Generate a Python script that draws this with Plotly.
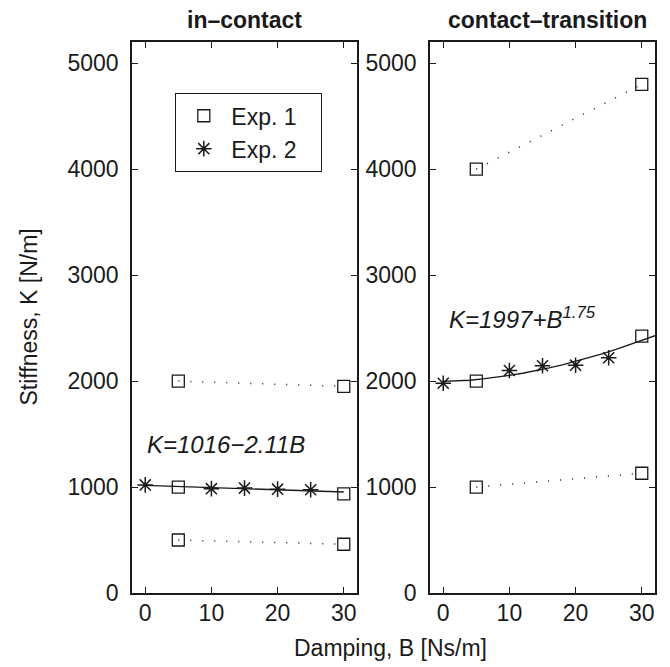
import plotly.graph_objects as go

# ---------------- data ----------------
# in-contact panel
ic_exp1_hi_B = [5, 30]
ic_exp1_hi_K = [2000, 1950]
ic_exp1_mid_B = [5, 30]
ic_exp1_mid_K = [1000, 935]
ic_exp1_lo_B = [5, 30]
ic_exp1_lo_K = [500, 460]
ic_exp2_B = [0, 10, 15, 20, 25]
ic_exp2_K = [1020, 985, 990, 980, 975]
ic_fit_B = [0, 30]
ic_fit_K = [1016, 953]

# contact-transition panel
ct_exp1_hi_B = [5, 30]
ct_exp1_hi_K = [4000, 4800]
ct_exp1_mid_B = [5, 30]
ct_exp1_mid_K = [2000, 2425]
ct_exp1_lo_B = [5, 30]
ct_exp1_lo_K = [1000, 1130]
ct_exp2_B = [0, 10, 15, 20, 25]
ct_exp2_K = [1980, 2100, 2145, 2150, 2220]
ct_fit_B = [0, 2, 4, 6, 8, 10, 12, 14, 16, 18, 20, 22, 24, 26, 28, 30, 32]
ct_fit_K = [1997, 2000, 2008, 2020, 2035, 2053, 2074, 2098, 2125, 2154,
            2186, 2220, 2257, 2296, 2338, 2382, 2428]

x_ticks = [0, 10, 20, 30]
y_ticks = [0, 1000, 2000, 3000, 4000, 5000]
panel_titles = ["in\u2013contact", "contact\u2013transition"]
fit_labels = ["<i>K=1016\u22122.11B</i>", "<i>K=1997+B<sup>1.75</sup></i>"]
legend_names = ["Exp. 1", "Exp. 2"]

# ---------------- style ----------------
INK = "#1a1a1a"
FONT = "Liberation Sans, Arial, Helvetica, sans-serif"
FS = 23
DOT = "1px,11px"
PAD = "\u00a0\u00a0\u00a0"  # right padding inside the legend box
SQ = dict(symbol="square-open", size=12, color=INK, line=dict(width=1.3, color=INK))
ST = dict(symbol="asterisk-open", size=13, color=INK, line=dict(width=1.5, color=INK))

fig = go.Figure()


def add_panel(xa, ya, hi, mid, lo, exp2, fit):
    for (bx, ky) in (hi, lo):
        fig.add_trace(go.Scatter(x=bx, y=ky, mode="lines+markers", xaxis=xa, yaxis=ya,
                                 line=dict(color=INK, width=1.5, dash=DOT),
                                 marker=SQ, showlegend=False, hoverinfo="skip"))
    fig.add_trace(go.Scatter(x=fit[0], y=fit[1], mode="lines", xaxis=xa, yaxis=ya,
                             line=dict(color=INK, width=1.3), showlegend=False,
                             hoverinfo="skip"))
    fig.add_trace(go.Scatter(x=mid[0], y=mid[1], mode="markers", xaxis=xa, yaxis=ya,
                             marker=SQ, showlegend=False))
    fig.add_trace(go.Scatter(x=exp2[0], y=exp2[1], mode="markers", xaxis=xa, yaxis=ya,
                             marker=ST, showlegend=False))


add_panel("x", "y", (ic_exp1_hi_B, ic_exp1_hi_K), (ic_exp1_mid_B, ic_exp1_mid_K),
          (ic_exp1_lo_B, ic_exp1_lo_K), (ic_exp2_B, ic_exp2_K), (ic_fit_B, ic_fit_K))
add_panel("x2", "y2", (ct_exp1_hi_B, ct_exp1_hi_K), (ct_exp1_mid_B, ct_exp1_mid_K),
          (ct_exp1_lo_B, ct_exp1_lo_K), (ct_exp2_B, ct_exp2_K), (ct_fit_B, ct_fit_K))

# legend-only entries (marker only, like the original)
fig.add_trace(go.Scatter(x=[None], y=[None], mode="markers", name=legend_names[0] + PAD,
                         marker=dict(symbol="square-open", size=12, color=INK,
                                     line=dict(width=1.3, color=INK))))
fig.add_trace(go.Scatter(x=[None], y=[None], mode="markers", name=legend_names[1] + PAD,
                         marker=dict(symbol="asterisk-open", size=13, color=INK,
                                     line=dict(width=1.5, color=INK))))

# page body has an 8px margin: figure coords = screen coords - 8
OFF = 8
W, H = 670 - OFF, 667 - OFF
L, T = 132 - OFF, 42 - OFF
R = W - (655 - OFF)
B = H - (593 - OFF)
PW = W - L - R
PH = H - T - B
d1 = [0, (357 - 132) / PW]
d2 = [(430 - 132) / PW, 1]

axis_common = dict(showline=True, linecolor=INK, linewidth=1.5, mirror="ticks",
                   ticks="inside", ticklen=6, tickwidth=1.2, tickcolor=INK,
                   showgrid=False, zeroline=False,
                   tickfont=dict(family=FONT, size=FS, color=INK))

fig.update_layout(
    width=W, height=H,
    margin=dict(l=L, r=R, t=T, b=B),
    paper_bgcolor="white", plot_bgcolor="white",
    font=dict(family=FONT, size=FS, color=INK),
    xaxis=dict(domain=d1, range=[-2, 32], tickvals=x_ticks, anchor="y",
               ticklabelstandoff=-1, **axis_common),
    xaxis2=dict(domain=d2, range=[-2, 32], tickvals=x_ticks, anchor="y2",
                ticklabelstandoff=-1, **axis_common),
    yaxis=dict(domain=[0, 1], range=[0, 5200], tickvals=y_ticks, anchor="x",
               ticklabelstandoff=7, **axis_common),
    yaxis2=dict(domain=[0, 1], range=[0, 5200], tickvals=y_ticks, anchor="x2",
                ticklabelstandoff=7, **axis_common),
    legend=dict(x=(175 - 132) / PW, y=(593 - 93) / PH, xanchor="left", yanchor="top",
                bgcolor="white", bordercolor=INK, borderwidth=1.3,
                font=dict(family=FONT, size=FS, color=INK),
                itemwidth=45, tracegroupgap=0),
    showlegend=True,
)

# panel titles
fig.add_annotation(text="<b>%s</b>" % panel_titles[0], xref="paper", yref="paper",
                   x=(d1[0] + d1[1]) / 2, y=(593 - 20) / PH, showarrow=False,
                   xanchor="center", yanchor="middle", font=dict(size=FS, family=FONT, color=INK))
fig.add_annotation(text="<b>%s</b>" % panel_titles[1], xref="paper", yref="paper",
                   x=(d2[0] + d2[1]) / 2 + 0.01, y=(593 - 20) / PH, showarrow=False,
                   xanchor="center", yanchor="middle", font=dict(size=FS, family=FONT, color=INK))

# fit equations
fig.add_annotation(text=fit_labels[0], xref="x", yref="y", x=0.0, y=1400,
                   showarrow=False, xanchor="left", yanchor="middle",
                   font=dict(size=FS + 1, family=FONT, color=INK))
fig.add_annotation(text=fit_labels[1], xref="x2", yref="y2", x=0.5, y=2600,
                   showarrow=False, xanchor="left", yanchor="middle",
                   font=dict(size=FS + 1, family=FONT, color=INK))

# axis titles
fig.add_annotation(text="Damping, B [Ns/m]", xref="paper", yref="paper",
                   x=(390 - 132) / PW, y=-(648 - 593) / PH, showarrow=False,
                   xanchor="center", yanchor="middle", font=dict(size=FS, family=FONT, color=INK))
fig.add_annotation(text="Stiffness, K [N/m]", xref="paper", yref="paper",
                   x=-(132 - 28) / PW, y=0.5, showarrow=False, textangle=-90,
                   xanchor="center", yanchor="middle", font=dict(size=FS, family=FONT, color=INK))

fig.write_html("out.html")
